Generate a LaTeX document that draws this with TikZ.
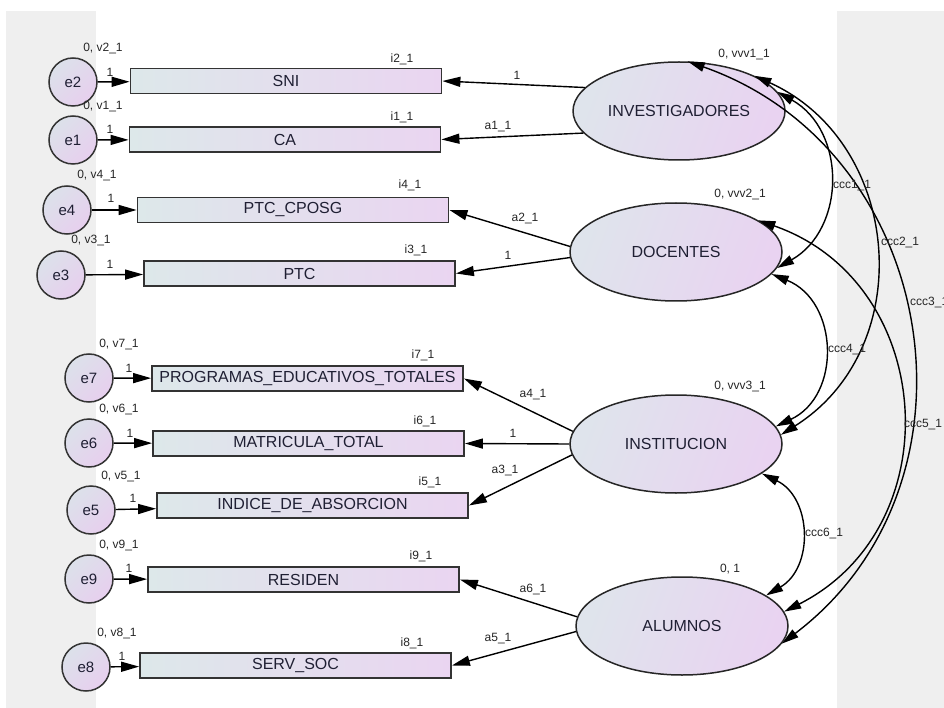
\documentclass[tikz,border=0pt]{standalone}
\usepackage{fontspec}
\setmainfont{Liberation Sans}
\usetikzlibrary{shapes.geometric,arrows.meta}
\definecolor{panel}{HTML}{EFEFEF}
\definecolor{boxL}{HTML}{DDE8EA}
\definecolor{boxR}{HTML}{EAD5F1}
\definecolor{latL}{HTML}{DFE4EC}
\definecolor{latR}{HTML}{E9D3F1}
\definecolor{errL}{HTML}{DCE1EA}
\definecolor{errR}{HTML}{E7CFEE}
\definecolor{ink}{HTML}{1F1F33}
\definecolor{edge}{HTML}{333333}

\begin{document}
\begin{tikzpicture}[x=1pt,y=-1pt,
  obs/.style={rectangle, draw=edge, line width=1.8pt, left color=boxL, right color=boxR,
    minimum width=311pt, minimum height=25pt, inner sep=0pt,
    font=\fontsize{16}{19}\selectfont, text=ink},
  lat/.style={ellipse, draw=black!85, line width=1.5pt, left color=latL, right color=latR,
    shading angle=70, minimum width=212pt, minimum height=98pt, inner sep=0pt,
    font=\fontsize{16}{19}\selectfont, text=ink},
  err/.style={circle, draw=edge, line width=1.5pt, left color=errL, right color=errR,
    shading angle=45, minimum size=48pt, inner sep=0pt,
    font=\fontsize{15}{18}\selectfont, text=ink},
  small/.style={inner sep=0pt, font=\fontsize{12}{14}\selectfont, text=black!85},
  arr/.style={-{Triangle[length=18pt,width=10pt]}, line width=1.4pt, draw=black},
  cov/.style={{Triangle[length=17pt,width=9.5pt]}-{Triangle[length=17pt,width=9.5pt]},
    line width=1.4pt, draw=black}
]
% canvas and side panels
\clip (0,0) rectangle (944,708);
\fill[white] (0,0) rectangle (944,708);
\fill[panel] (6,11) rectangle (96,708);
\fill[panel] (837,11) rectangle (944,708);

% latent factors
\node[lat] (inv)  at (679,111) {INVESTIGADORES};
\node[lat] (doc)  at (676,252) {DOCENTES};
\node[lat] (inst) at (676,444) {INSTITUCION};
\node[lat] (alu)  at (682,626) {ALUMNOS};

% observed indicators
\node[obs] (sni)  at (286,81)    {SNI};
\node[obs] (ca)   at (285,139.5) {CA};
\node[obs] (pcp)  at (293,210)   {PTC\_CPOSG};
\node[obs] (ptc)  at (299.5,273.5) {PTC};
\node[obs] (prog) at (307.5,378.5) {PROGRAMAS\_EDUCATIVOS\_TOTALES};
\node[obs] (mat)  at (308.5,443.5) {MATRICULA\_TOTAL};
\node[obs] (ind)  at (312.5,505.5) {INDICE\_DE\_ABSORCION};
\node[obs] (res)  at (303.5,579.5) {RESIDEN};
\node[obs] (serv) at (295.5,665.5) {SERV\_SOC};

% error terms
\node[err] (e2) at (73,82)  {e2};
\node[err] (e1) at (73,140) {e1};
\node[err] (e4) at (67,210) {e4};
\node[err] (e3) at (61,275) {e3};
\node[err] (e7) at (89,378) {e7};
\node[err] (e6) at (89,443) {e6};
\node[err] (e5) at (91,510) {e5};
\node[err] (e9) at (89,579) {e9};
\node[err] (e8) at (86,667) {e8};

% error paths
\draw[arr] (e2) -- (sni);
\draw[arr] (e1) -- (ca);
\draw[arr] (e4) -- (pcp);
\draw[arr] (e3) -- (ptc);
\draw[arr] (e7) -- (prog);
\draw[arr] (e6) -- (mat);
\draw[arr] (e5) -- (ind);
\draw[arr] (e9) -- (res);
\draw[arr] (e8) -- (serv);

% loadings
\draw[arr] (inv.166.5) -- (sni.east);
\draw[arr] (inv.193)   -- (ca.east);
\draw[arr] (doc.177)   -- (pcp.east);
\draw[arr] (doc.183)   -- (ptc.east);
\draw[arr] (inst.173.5) -- (prog.east);
\draw[arr] (inst.180)  -- (mat.east);
\draw[arr] (inst.186)  -- (ind.east);
\draw[arr] (alu.175.5) -- (res.east);
\draw[arr] (alu.183.5) -- (serv.east);

% covariances between factors
\draw[cov] (inv.11) .. controls +(69,39) and +(69,-39) .. (doc.-9);
\draw[cov] (inv.25) .. controls +(148,67) and +(138,-87) .. (inst.5);
\draw[cov] (inv.80) .. controls +(251,88) and +(212,-161) .. (alu.-10);
\draw[cov] (doc.-13) .. controls +(67,27) and +(66,-31) .. (inst.10);
\draw[cov] (doc.21) .. controls +(178,62) and +(168,-85) .. (alu.8);
\draw[cov] (inst.-19) .. controls +(50,24) and +(48,-28) .. (alu.20);

% error variance labels
\node[small] (lv2) at (103,49)  {0, v2\_1};
\node[small] (lv1) at (103,107) {0, v1\_1};
\node[small] (lv4) at (97,176)  {0, v4\_1};
\node[small] (lv3) at (91,241)  {0, v3\_1};
\node[small] (lv7) at (119,345) {0, v7\_1};
\node[small] (lv6) at (119,410) {0, v6\_1};
\node[small] (lv5) at (121,476) {0, v5\_1};
\node[small] (lv9) at (119,545) {0, v9\_1};
\node[small] (lv8) at (117,633) {0, v8\_1};

% error path weights
\node[small] (w2) at (110,72)  {1};
\node[small] (w1) at (110,129) {1};
\node[small] (w4) at (111,198) {1};
\node[small] (w3) at (110,264) {1};
\node[small] (w7) at (129,368) {1};
\node[small] (w6) at (130,433) {1};
\node[small] (w5) at (133,498) {1};
\node[small] (w9) at (129,568) {1};
\node[small] (w8) at (122,656) {1};

% intercepts
\node[small] (i2) at (402,59)  {i2\_1};
\node[small] (i1) at (402,117) {i1\_1};
\node[small] (i4) at (410,185) {i4\_1};
\node[small] (i3) at (416,250) {i3\_1};
\node[small] (i7) at (423,355) {i7\_1};
\node[small] (i6) at (425,421) {i6\_1};
\node[small] (i5) at (430,482) {i5\_1};
\node[small] (i9) at (421,556) {i9\_1};
\node[small] (i8) at (412,643) {i8\_1};

% loading labels
\node[small] (l1)  at (517,75)  {1};
\node[small] (la1) at (498,127) {a1\_1};
\node[small] (la2) at (525,219) {a2\_1};
\node[small] (l2)  at (508,255) {1};
\node[small] (la4) at (533,395) {a4\_1};
\node[small] (l3)  at (513,433) {1};
\node[small] (la3) at (505,471) {a3\_1};
\node[small] (la6) at (533,589) {a6\_1};
\node[small] (la5) at (498,639) {a5\_1};

% factor mean/variance labels
\node[small] (fv1) at (744,55)  {0, vvv1\_1};
\node[small] (fv2) at (740,195) {0, vvv2\_1};
\node[small] (fv3) at (740,387) {0, vvv3\_1};
\node[small] (fv4) at (730,569) {0, 1};

% covariance labels
\node[small] (c1) at (852,186) {ccc1\_1};
\node[small] (c2) at (900,243) {ccc2\_1};
\node[small, anchor=west] (c3) at (910,303) {ccc3\_1};
\node[small] (c4) at (847,350) {ccc4\_1};
\node[small] (c5) at (923,425) {ccc5\_1};
\node[small] (c6) at (824,533) {ccc6\_1};
\end{tikzpicture}
\end{document}
